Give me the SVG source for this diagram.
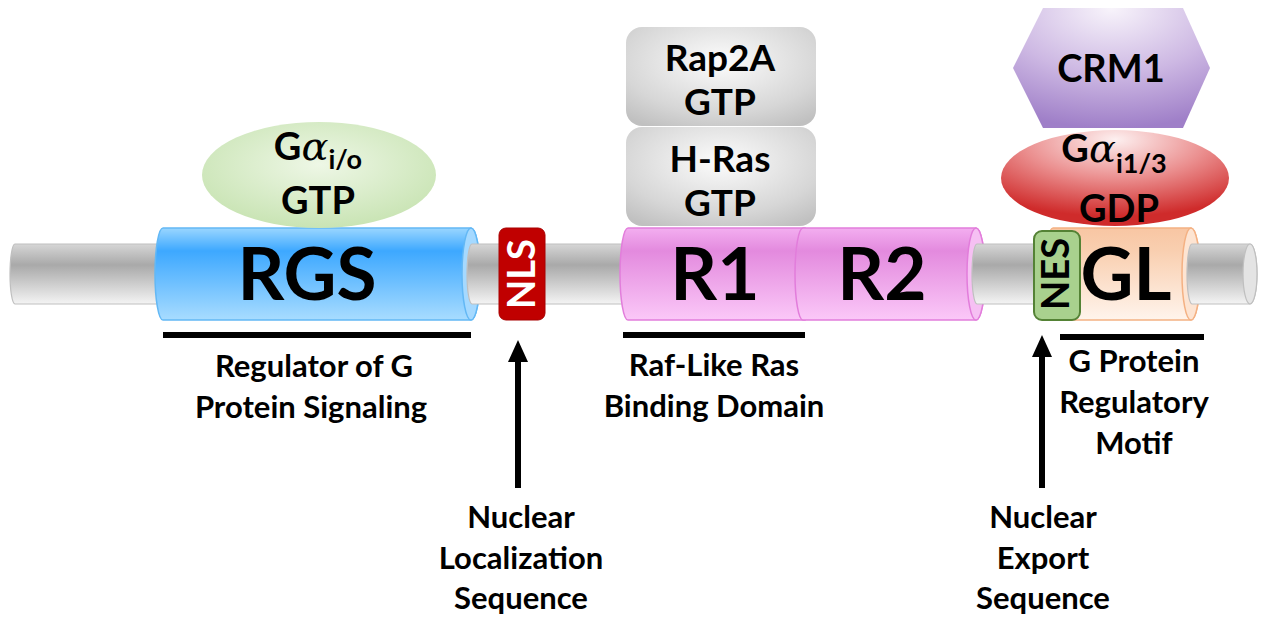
<svg xmlns="http://www.w3.org/2000/svg" width="1263" height="618" viewBox="0 0 1263 618">
<defs>
<linearGradient id="gGray" x1="0" y1="0" x2="0" y2="1"><stop offset="0" stop-color="#d6d6d6"/><stop offset="0.35" stop-color="#a9a9a9"/><stop offset="1" stop-color="#f4f4f4"/></linearGradient>
<linearGradient id="gBlue" x1="0" y1="0" x2="0" y2="1"><stop offset="0" stop-color="#9ad6ff"/><stop offset="0.25" stop-color="#3da8ff"/><stop offset="1" stop-color="#a8dcff"/></linearGradient>
<linearGradient id="gPink" x1="0" y1="0" x2="0" y2="1"><stop offset="0" stop-color="#f3aef0"/><stop offset="0.25" stop-color="#e38ade"/><stop offset="1" stop-color="#fbc8f8"/></linearGradient>
<linearGradient id="gPeach" x1="0" y1="0" x2="0" y2="1"><stop offset="0" stop-color="#f8c6a3"/><stop offset="0.25" stop-color="#f9cfb0"/><stop offset="1" stop-color="#fff4ec"/></linearGradient>
<radialGradient id="gBox" cx="0.5" cy="0.35" r="0.75"><stop offset="0" stop-color="#fcfcfc"/><stop offset="0.7" stop-color="#d6d6d6"/><stop offset="1" stop-color="#c0c0c0"/></radialGradient>
<radialGradient id="gGreen" cx="0.5" cy="0.4" r="0.6"><stop offset="0" stop-color="#eef7e6"/><stop offset="1" stop-color="#c9e4b4"/></radialGradient>
<radialGradient id="gRed" cx="0.5" cy="0.1" r="0.8"><stop offset="0" stop-color="#fdf0f0"/><stop offset="0.5" stop-color="#eb9090"/><stop offset="1" stop-color="#cf2b2b"/></radialGradient>
<radialGradient id="gPurple" cx="0.5" cy="0" r="1"><stop offset="0" stop-color="#f8f4fb"/><stop offset="0.55" stop-color="#cdb8e3"/><stop offset="1" stop-color="#9f7fc8"/></radialGradient>
<marker id="arrowHead" viewBox="0 0 22 20" refX="0" refY="10" markerWidth="22" markerHeight="20" markerUnits="userSpaceOnUse" orient="auto"><polygon points="0,0 22,10 0,20" fill="#000"/></marker>
</defs>
<style>
text{font-family:Lato,"Noto Sans","Liberation Sans",sans-serif;font-weight:bold;fill:#000}
.big{font-size:73px;text-anchor:middle}
.lbl{font-size:31px;text-anchor:middle}
.mid{font-size:38px;text-anchor:middle}
.box{font-size:37px;text-anchor:middle}
.alpha{font-family:"DejaVu Serif","Noto Serif",serif;font-weight:normal;font-style:italic;font-size:40px}
.sub{font-size:27px}
.gray{fill:url(#gGray);stroke:#bfbfbf;stroke-width:1.2}
.grayFace{fill:#e4e4e4;stroke:#bfbfbf;stroke-width:1.2}
.under{stroke:#000;stroke-width:6}
.arrow{stroke:#000;stroke-width:6;fill:none}
</style>

<g id="backbone">
<path class="gray" d="M15,244 H172 V304 H15 A5 30 0 0 1 15,244 Z"/>
</g>

<g id="rgs">
<path d="M163,228 H471 A9 46 0 0 1 471,320 H163 A8 46 0 0 1 163,228 Z" fill="url(#gBlue)" stroke="#63b8f5" stroke-width="1.5"/>
<ellipse cx="471" cy="274" rx="9" ry="46" fill="#a5d9ff" stroke="#63b8f5" stroke-width="1.5"/>
<text class="big" x="307" y="300">RGS</text>
</g>

<g id="backbone-b">
<path class="gray" d="M472,244 H632 V304 H472 A5 30 0 0 1 472,244 Z"/>
</g>

<g id="nls">
<rect x="499" y="228" width="46" height="92" rx="7" fill="#c00000" stroke="#a80000" stroke-width="1"/>
<text transform="translate(522,274) rotate(-90)" x="0" y="13" style="font-size:38px;text-anchor:middle;fill:#fff">NLS</text>
</g>

<g id="r1">
<path d="M628,228 H805 V320 H628 A8 46 0 0 1 628,228 Z" fill="url(#gPink)" stroke="#e27ddb" stroke-width="1.5"/>
<text class="big" x="715" y="300">R1</text>
</g>

<g id="r2">
<path d="M803,228 H976 A9 46 0 0 1 976,320 H803 A8 46 0 0 1 803,228 Z" fill="url(#gPink)" stroke="#e27ddb" stroke-width="1.5"/>
<ellipse cx="976" cy="274" rx="9" ry="46" fill="#f6c0f3" stroke="#e27ddb" stroke-width="1.5"/>
<text class="big" x="882" y="300">R2</text>
</g>

<g id="backbone-c">
<path class="gray" d="M977,244 H1052 V304 H977 A5 30 0 0 1 977,244 Z"/>
</g>

<g id="gl">
<path d="M1053,228 H1191 A9 46 0 0 1 1191,320 H1053 A8 46 0 0 1 1053,228 Z" fill="url(#gPeach)" stroke="#f4b183" stroke-width="1.5"/>
<ellipse cx="1191" cy="274" rx="9" ry="46" fill="#fde4d2" stroke="#f4b183" stroke-width="1.5"/>
<text class="big" x="1126" y="300">GL</text>
</g>

<g id="backbone-d">
<path class="gray" d="M1192,244 H1250 A7 30 0 0 1 1250,304 H1192 A5 30 0 0 1 1192,244 Z"/>
<ellipse class="grayFace" cx="1250" cy="274" rx="7" ry="30"/>
</g>

<g id="nes">
<rect x="1034" y="231" width="46" height="89" rx="8" fill="#a9d18e" stroke="#548235" stroke-width="2"/>
<text transform="translate(1056,274) rotate(-90)" x="0" y="13" style="font-size:38px;text-anchor:middle">NES</text>
</g>

<g id="gai-o">
<ellipse cx="319" cy="175" rx="117" ry="53" fill="url(#gGreen)"/>
<text class="mid" x="318" y="160">G<tspan class="alpha">α</tspan><tspan class="sub" dy="9">i/o</tspan></text>
<text class="mid" x="318" y="214">GTP</text>
</g>

<g id="rap2a">
<rect x="626" y="27" width="190" height="99" rx="16" fill="url(#gBox)"/>
<text class="box" x="720" y="71">Rap2A</text>
<text class="box" x="720" y="115">GTP</text>
</g>

<g id="hras">
<rect x="626" y="127" width="190" height="99" rx="16" fill="url(#gBox)"/>
<text class="box" x="720" y="172">H-Ras</text>
<text class="box" x="720" y="216">GTP</text>
</g>

<g id="crm1">
<polygon points="1013,68 1043,8 1183,8 1210,68 1183,128 1043,128" fill="url(#gPurple)"/>
<text class="mid" x="1111" y="82">CRM1</text>
</g>

<g id="gai13">
<ellipse cx="1115" cy="178" rx="114" ry="48" fill="url(#gRed)"/>
<text class="mid" x="1114" y="162">G<tspan class="alpha">α</tspan><tspan class="sub" dy="11">i1/3</tspan></text>
<text class="mid" x="1119" y="222">GDP</text>
</g>

<g id="connectors">
<line class="under" x1="163" y1="335" x2="471" y2="335"/>
<line class="under" x1="623" y1="335" x2="805" y2="335"/>
<line class="under" x1="1060" y1="337" x2="1204" y2="337"/>
<line class="arrow" x1="518" y1="488" x2="518" y2="362" marker-end="url(#arrowHead)"/>
<line class="arrow" x1="1042" y1="488" x2="1042" y2="357" marker-end="url(#arrowHead)"/>
</g>

<g id="labels">
<text class="lbl" x="314" y="377">Regulator of G</text>
<text class="lbl" x="311" y="418">Protein Signaling</text>
<text class="lbl" x="714" y="376">Raf-Like Ras</text>
<text class="lbl" x="714" y="417">Binding Domain</text>
<text class="lbl" x="1134" y="372">G Protein</text>
<text class="lbl" x="1134" y="413">Regulatory</text>
<text class="lbl" x="1134" y="454">Motif</text>
<text class="lbl" x="521" y="528">Nuclear</text>
<text class="lbl" x="521" y="569">Localization</text>
<text class="lbl" x="521" y="609">Sequence</text>
<text class="lbl" x="1043" y="528">Nuclear</text>
<text class="lbl" x="1043" y="569">Export</text>
<text class="lbl" x="1043" y="609">Sequence</text>
</g>
</svg>
